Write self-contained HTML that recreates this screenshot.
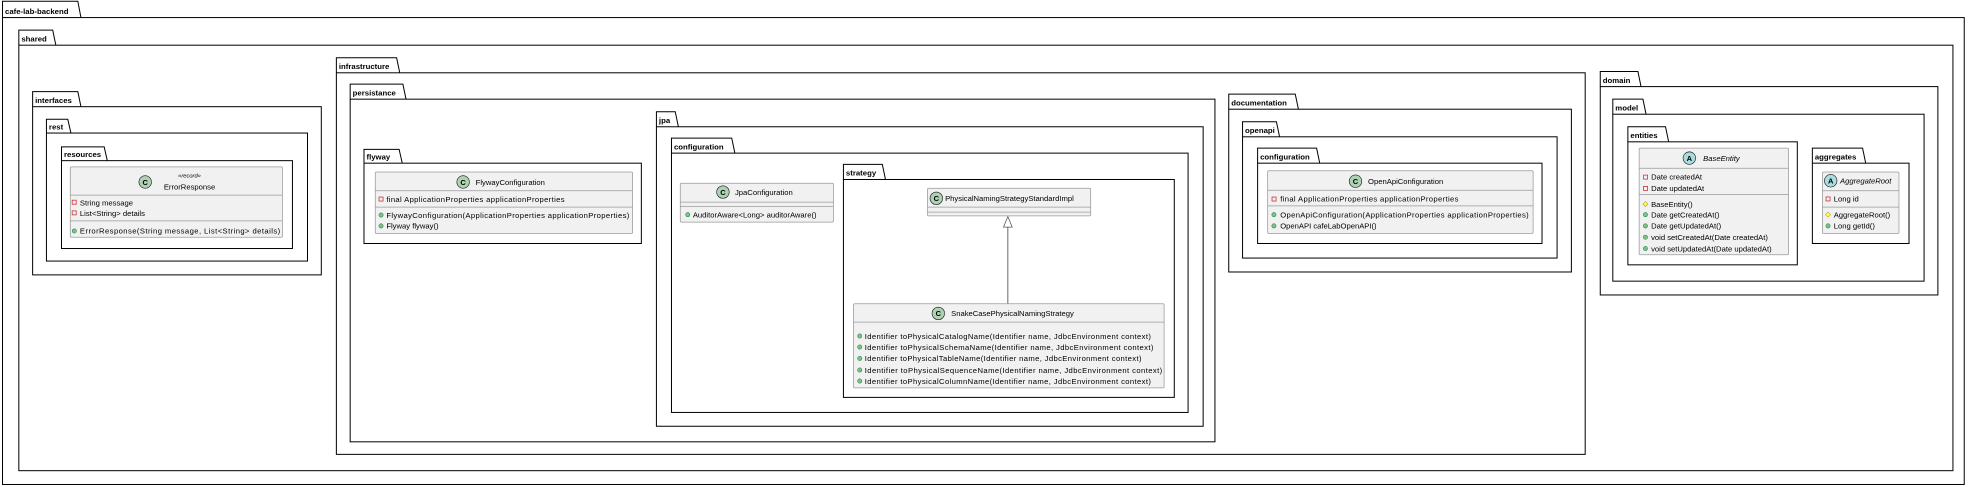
<!DOCTYPE html>
<html><head><meta charset="utf-8"><style>
html,body{margin:0;padding:0;background:#fff;width:1968px;height:487px;overflow:hidden}
svg{display:block}
text{font-family:"Liberation Sans",Arial,sans-serif;font-size:6.1px;fill:#000}
.t{font-weight:bold;font-size:6.2px}
.p{fill:none;stroke:#000;stroke-width:0.8}
.c{fill:#F1F1F1;stroke:#9a9a9a;stroke-width:0.6}
.l{stroke:#9a9a9a;stroke-width:0.6}
.ic{fill:#ADD1B2;stroke:#181818;stroke-width:0.5}
.ia{fill:#A9DCDF;stroke:#181818;stroke-width:0.5}
.il{font-size:6px;font-weight:bold;text-anchor:middle}
.pr{fill:none;stroke:#C82930;stroke-width:0.6}
.pu{fill:#84BE84;stroke:#038048;stroke-width:0.4}
.pt{fill:#FFFF44;stroke:#B38D22;stroke-width:0.4}
</style></head><body>
<svg width="1968" height="487" viewBox="0 0 1568 388" preserveAspectRatio="none">
<!-- packages -->
<g class="pk">
<path class="p" d="M2 14V1H62L64.5 14"/><rect class="p" x="2" y="14" width="1563" height="372"/><text class="t" x="4" y="11">cafe-lab-backend</text>
<path class="p" d="M15 36V24H42L44.5 36"/><rect class="p" x="15" y="36" width="1541" height="339"/><text class="t" x="17" y="33">shared</text>
<path class="p" d="M26 85V73H62L64.5 85"/><rect class="p" x="26" y="85" width="230" height="134"/><text class="t" x="28" y="82">interfaces</text>
<path class="p" d="M37 106V95H54L56.5 106"/><rect class="p" x="37" y="106" width="208" height="102"/><text class="t" x="39" y="103">rest</text>
<path class="p" d="M49 128V117H83L85.5 128"/><rect class="p" x="49" y="128" width="184" height="70"/><text class="t" x="51" y="125">resources</text>
<path class="p" d="M268 58V46H316L318.5 58"/><rect class="p" x="268" y="58" width="995" height="304"/><text class="t" x="270" y="55">infrastructure</text>
<path class="p" d="M279 79V67H321L323.5 79"/><rect class="p" x="279" y="79" width="689" height="273"/><text class="t" x="281" y="76">persistance</text>
<path class="p" d="M290 130V119H318L320.5 130"/><rect class="p" x="290" y="130" width="221" height="64"/><text class="t" x="292" y="127">flyway</text>
<path class="p" d="M523 101V89H538L540.5 101"/><rect class="p" x="523" y="101" width="435.6" height="238.6"/><text class="t" x="525" y="98">jpa</text>
<path class="p" d="M535 122V110H583L585.5 122"/><rect class="p" x="535" y="122" width="411.6" height="206.6"/><text class="t" x="537" y="119">configuration</text>
<path class="p" d="M672 143V131H703L705.5 143"/><rect class="p" x="672" y="143" width="263.6" height="173.6"/><text class="t" x="674" y="140">strategy</text>
<path class="p" d="M979 87V75H1032L1034.5 87"/><rect class="p" x="979" y="87" width="273" height="129.7"/><text class="t" x="981" y="84">documentation</text>
<path class="p" d="M990 109V97H1017L1019.5 109"/><rect class="p" x="990" y="109" width="250.6" height="96.6"/><text class="t" x="992" y="106">openapi</text>
<path class="p" d="M1002 130V118H1049L1051.5 130"/><rect class="p" x="1002" y="130" width="226.6" height="64"/><text class="t" x="1004" y="127">configuration</text>
<path class="p" d="M1275 69V57H1305L1307.5 69"/><rect class="p" x="1275" y="69" width="269" height="166"/><text class="t" x="1277" y="66">domain</text>
<path class="p" d="M1285 91V79H1309L1311.5 91"/><rect class="p" x="1285" y="91" width="248" height="133"/><text class="t" x="1287" y="88">model</text>
<path class="p" d="M1297 113V101H1327L1329.5 113"/><rect class="p" x="1297" y="113" width="135" height="98"/><text class="t" x="1299" y="110">entities</text>
<path class="p" d="M1444 130V118H1484L1486.5 130"/><rect class="p" x="1444" y="130" width="77" height="64"/><text class="t" x="1446" y="127">aggregates</text>
</g>

<!-- ErrorResponse -->
<rect class="c" x="56" y="133" width="169" height="56" rx="1"/>
<line class="l" x1="56" y1="155.5" x2="225" y2="155.5"/><line class="l" x1="56" y1="176" x2="225" y2="176"/>
<circle class="ic" cx="115.7" cy="145" r="5"/><text class="il" x="115.7" y="147.2">C</text>
<text x="151" y="141.5" style="font-size:4.6px;font-style:italic" text-anchor="middle">«record»</text>
<text x="151" y="151" text-anchor="middle">ErrorResponse</text>
<rect class="pr" x="57.5" y="159.5" width="3.2" height="3.2"/><text x="63.7" y="163.7">String message</text>
<rect class="pr" x="57.5" y="168" width="3.2" height="3.2"/><text x="63.7" y="172.2">List&lt;String&gt; details</text>
<circle class="pu" cx="59.2" cy="184" r="1.7"/><text x="63.7" y="186.2" textLength="159.5">ErrorResponse(String message, List&lt;String&gt; details)</text>

<!-- Flyway -->
<rect class="c" x="299" y="137" width="205" height="49" rx="1"/>
<line class="l" x1="299" y1="152" x2="504" y2="152"/><line class="l" x1="299" y1="165" x2="504" y2="165"/>
<circle class="ic" cx="369" cy="145" r="5"/><text class="il" x="369" y="147.2">C</text>
<text x="379" y="147.2">FlywayConfiguration</text>
<rect class="pr" x="302" y="157" width="3.2" height="3.2"/><text x="307.8" y="160.8" textLength="142">final ApplicationProperties applicationProperties</text>
<circle class="pu" cx="303.6" cy="171.3" r="1.7"/><text x="307.8" y="173.5" textLength="193.6">FlywayConfiguration(ApplicationProperties applicationProperties)</text>
<circle class="pu" cx="303.6" cy="180" r="1.7"/><text x="307.8" y="182.2">Flyway flyway()</text>

<!-- JpaConfiguration -->
<rect class="c" x="542" y="146" width="122" height="31" rx="1"/>
<line class="l" x1="542" y1="161" x2="664" y2="161"/><line class="l" x1="542" y1="164.5" x2="664" y2="164.5"/>
<circle class="ic" cx="576" cy="153" r="5"/><text class="il" x="576" y="155.2">C</text>
<text x="585.6" y="155.2">JpaConfiguration</text>
<circle class="pu" cx="548" cy="171" r="1.7"/><text x="552" y="173.2">AuditorAware&lt;Long&gt; auditorAware()</text>

<!-- PNSSI -->
<rect class="c" x="739" y="150" width="130" height="22" rx="1"/>
<line class="l" x1="739" y1="165" x2="869" y2="165"/><line class="l" x1="739" y1="169" x2="869" y2="169"/>
<circle class="ic" cx="746" cy="158" r="5"/><text class="il" x="746" y="160.2">C</text>
<text x="753" y="160.2">PhysicalNamingStrategyStandardImpl</text>

<!-- arrow -->
<line x1="803" y1="181" x2="803" y2="242" stroke="#555" stroke-width="0.7"/>
<path d="M803 172.6L799.5 181H806.5Z" fill="#fff" stroke="#555" stroke-width="0.6"/>

<!-- Snake -->
<rect class="c" x="680" y="242" width="247.5" height="67" rx="1"/>
<line class="l" x1="680" y1="256.6" x2="927.5" y2="256.6"/>
<circle class="ic" cx="747.6" cy="249.7" r="5"/><text class="il" x="747.6" y="251.9">C</text>
<text x="757.8" y="251.9">SnakeCasePhysicalNamingStrategy</text>
<g>
<circle class="pu" cx="685" cy="267.7" r="1.7"/><text x="689" y="269.9" textLength="228">Identifier toPhysicalCatalogName(Identifier name, JdbcEnvironment context)</text>
<circle class="pu" cx="685" cy="276.5" r="1.7"/><text x="689" y="278.7" textLength="230">Identifier toPhysicalSchemaName(Identifier name, JdbcEnvironment context)</text>
<circle class="pu" cx="685" cy="285.6" r="1.7"/><text x="689" y="287.8" textLength="220.5">Identifier toPhysicalTableName(Identifier name, JdbcEnvironment context)</text>
<circle class="pu" cx="685" cy="294.8" r="1.7"/><text x="689" y="297" textLength="237">Identifier toPhysicalSequenceName(Identifier name, JdbcEnvironment context)</text>
<circle class="pu" cx="685" cy="303.6" r="1.7"/><text x="689" y="305.8" textLength="228">Identifier toPhysicalColumnName(Identifier name, JdbcEnvironment context)</text>
</g>

<!-- OpenApi -->
<rect class="c" x="1010" y="136" width="211.5" height="50" rx="1"/>
<line class="l" x1="1010" y1="151.6" x2="1221.5" y2="151.6"/><line class="l" x1="1010" y1="164" x2="1221.5" y2="164"/>
<circle class="ic" cx="1080" cy="144.4" r="5"/><text class="il" x="1080" y="146.6">C</text>
<text x="1090" y="146.6">OpenApiConfiguration</text>
<rect class="pr" x="1013.5" y="157" width="3.2" height="3.2"/><text x="1020" y="160.7" textLength="142">final ApplicationProperties applicationProperties</text>
<circle class="pu" cx="1015" cy="171" r="1.7"/><text x="1020" y="173.2" textLength="198">OpenApiConfiguration(ApplicationProperties applicationProperties)</text>
<circle class="pu" cx="1015" cy="180" r="1.7"/><text x="1020" y="182.2">OpenAPI cafeLabOpenAPI()</text>

<!-- BaseEntity -->
<rect class="c" x="1306" y="118" width="119" height="85" rx="1"/>
<line class="l" x1="1306" y1="134" x2="1425" y2="134"/><line class="l" x1="1306" y1="155" x2="1425" y2="155"/>
<circle class="ia" cx="1346" cy="126" r="5"/><text class="il" x="1346" y="128.2">A</text>
<text x="1357" y="128.2" font-style="italic">BaseEntity</text>
<rect class="pr" x="1309.5" y="139.5" width="3.2" height="3.2"/><text x="1315.5" y="143.2">Date createdAt</text>
<rect class="pr" x="1309.5" y="148.5" width="3.2" height="3.2"/><text x="1315.5" y="152.2">Date updatedAt</text>
<path class="pt" d="M1311 160.6L1313 162.6L1311 164.6L1309 162.6Z"/><text x="1315.5" y="164.8">BaseEntity()</text>
<circle class="pu" cx="1311" cy="171" r="1.7"/><text x="1315.5" y="173.2">Date getCreatedAt()</text>
<circle class="pu" cx="1311" cy="180" r="1.7"/><text x="1315.5" y="182.2">Date getUpdatedAt()</text>
<circle class="pu" cx="1311" cy="189" r="1.7"/><text x="1315.5" y="191.2">void setCreatedAt(Date createdAt)</text>
<circle class="pu" cx="1311" cy="198" r="1.7"/><text x="1315.5" y="200.2">void setUpdatedAt(Date updatedAt)</text>

<!-- AggregateRoot -->
<rect class="c" x="1452" y="137" width="61" height="49" rx="1"/>
<line class="l" x1="1452" y1="152" x2="1513" y2="152"/><line class="l" x1="1452" y1="165" x2="1513" y2="165"/>
<circle class="ia" cx="1458.6" cy="144" r="5"/><text class="il" x="1458.6" y="146.2">A</text>
<text x="1466" y="146.2" font-style="italic">AggregateRoot</text>
<rect class="pr" x="1454.9" y="156.9" width="3.2" height="3.2"/><text x="1461" y="160.7">Long id</text>
<path class="pt" d="M1456.5 169L1458.5 171L1456.5 173L1454.5 171Z"/><text x="1461" y="173.2">AggregateRoot()</text>
<circle class="pu" cx="1456.5" cy="180" r="1.7"/><text x="1461" y="182.2">Long getId()</text>
</svg>
</body></html>
